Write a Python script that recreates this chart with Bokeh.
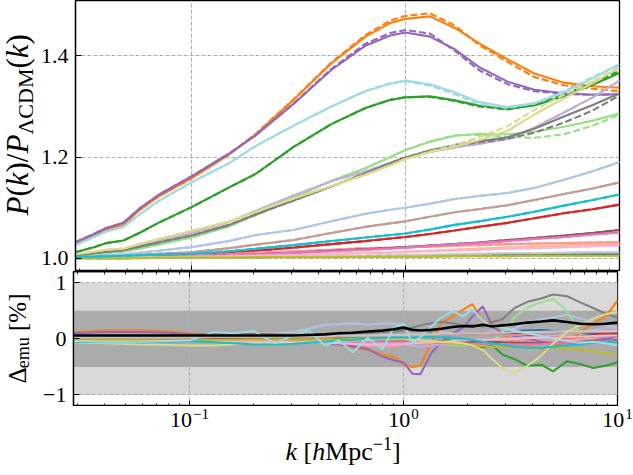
import numpy as np
from bokeh.plotting import figure
from bokeh.layouts import column, row
from bokeh.models import Range1d, LogAxis, FixedTicker, BoxAnnotation
from bokeh.core.properties import value
from bokeh.embed import file_html
from bokeh.resources import INLINE

# ---------------- data: upper panel, P(k)/P_LCDM(k) ----------------
K = [0.0287, 0.035, 0.04, 0.048, 0.057, 0.07, 0.1, 0.15, 0.2, 0.3, 0.45,
     0.65, 0.85, 1.0, 1.3, 1.7, 2.2, 3.0, 4.0, 5.5, 7.5, 10.0]

r_blue = [1.000, 1.000, 1.000, 1.000, 1.001, 1.001, 1.001, 1.002, 1.002, 1.003, 1.003, 1.004, 1.004, 1.005, 1.005, 1.006, 1.006, 1.007, 1.007, 1.008, 1.008, 1.008]
r_lblue = [1.003, 1.005, 1.007, 1.008, 1.011, 1.015, 1.022, 1.034, 1.046, 1.056, 1.073, 1.088, 1.096, 1.100, 1.108, 1.117, 1.123, 1.129, 1.139, 1.155, 1.172, 1.190]
r_orange = [1.030, 1.045, 1.057, 1.066, 1.095, 1.122, 1.158, 1.205, 1.245, 1.313, 1.385, 1.438, 1.465, 1.473, 1.478, 1.455, 1.425, 1.393, 1.365, 1.347, 1.340, 1.337]
rd_orange = [1.030, 1.045, 1.057, 1.066, 1.095, 1.122, 1.158, 1.206, 1.246, 1.314, 1.387, 1.441, 1.470, 1.479, 1.484, 1.460, 1.422, 1.388, 1.358, 1.342, 1.335, 1.330]
r_lorange = [1.000, 1.001, 1.001, 1.001, 1.002, 1.002, 1.003, 1.004, 1.005, 1.007, 1.009, 1.011, 1.012, 1.013, 1.015, 1.017, 1.019, 1.021, 1.023, 1.025, 1.027, 1.029]
r_green = [1.012, 1.022, 1.030, 1.035, 1.050, 1.070, 1.101, 1.140, 1.167, 1.220, 1.265, 1.297, 1.313, 1.318, 1.320, 1.312, 1.302, 1.295, 1.302, 1.320, 1.343, 1.366]
rd_green = [1.012, 1.022, 1.030, 1.035, 1.050, 1.070, 1.101, 1.140, 1.167, 1.220, 1.265, 1.297, 1.313, 1.318, 1.319, 1.311, 1.300, 1.294, 1.304, 1.323, 1.347, 1.370]
r_lgreen = [1.004, 1.008, 1.011, 1.013, 1.019, 1.027, 1.041, 1.063, 1.085, 1.120, 1.153, 1.178, 1.200, 1.214, 1.230, 1.242, 1.246, 1.245, 1.250, 1.260, 1.272, 1.286]
rd_lgreen = [1.004, 1.008, 1.011, 1.013, 1.019, 1.027, 1.041, 1.063, 1.085, 1.120, 1.153, 1.178, 1.200, 1.214, 1.231, 1.243, 1.244, 1.240, 1.238, 1.245, 1.262, 1.284]
r_red = [1.001, 1.002, 1.002, 1.003, 1.004, 1.005, 1.007, 1.011, 1.015, 1.021, 1.028, 1.034, 1.039, 1.042, 1.048, 1.055, 1.062, 1.070, 1.079, 1.089, 1.097, 1.106]
r_lred = [1.001, 1.001, 1.002, 1.002, 1.003, 1.004, 1.005, 1.008, 1.011, 1.014, 1.017, 1.020, 1.021, 1.022, 1.023, 1.025, 1.026, 1.028, 1.029, 1.030, 1.031, 1.032]
r_purple = [1.032, 1.048, 1.060, 1.070, 1.098, 1.125, 1.162, 1.207, 1.243, 1.305, 1.372, 1.420, 1.440, 1.446, 1.438, 1.413, 1.378, 1.349, 1.333, 1.326, 1.323, 1.324]
rd_purple = [1.032, 1.048, 1.060, 1.070, 1.098, 1.125, 1.162, 1.207, 1.244, 1.306, 1.374, 1.424, 1.445, 1.451, 1.444, 1.410, 1.372, 1.344, 1.330, 1.325, 1.323, 1.324]
r_lpurple = [1.007, 1.011, 1.015, 1.018, 1.026, 1.035, 1.050, 1.072, 1.094, 1.124, 1.152, 1.172, 1.189, 1.199, 1.210, 1.219, 1.226, 1.236, 1.258, 1.288, 1.318, 1.351]
r_brown = [1.001, 1.001, 1.001, 1.002, 1.002, 1.003, 1.004, 1.006, 1.008, 1.011, 1.015, 1.018, 1.020, 1.022, 1.025, 1.028, 1.031, 1.036, 1.040, 1.045, 1.050, 1.056]
r_lbrown = [1.002, 1.003, 1.004, 1.005, 1.007, 1.009, 1.012, 1.020, 1.027, 1.036, 1.050, 1.062, 1.069, 1.073, 1.082, 1.091, 1.097, 1.105, 1.115, 1.127, 1.138, 1.150]
r_pink = [1.001, 1.001, 1.001, 1.002, 1.002, 1.003, 1.004, 1.006, 1.008, 1.011, 1.014, 1.017, 1.019, 1.021, 1.024, 1.027, 1.030, 1.034, 1.038, 1.042, 1.047, 1.051]
r_lpink = [1.000, 1.001, 1.001, 1.001, 1.002, 1.002, 1.003, 1.004, 1.005, 1.006, 1.008, 1.010, 1.011, 1.012, 1.014, 1.015, 1.017, 1.019, 1.020, 1.022, 1.024, 1.025]
r_gray = [1.006, 1.010, 1.013, 1.016, 1.023, 1.031, 1.045, 1.066, 1.087, 1.114, 1.142, 1.168, 1.188, 1.199, 1.213, 1.224, 1.231, 1.239, 1.256, 1.280, 1.303, 1.326]
rd_gray = [1.006, 1.010, 1.013, 1.016, 1.023, 1.031, 1.045, 1.066, 1.087, 1.114, 1.142, 1.168, 1.188, 1.199, 1.213, 1.223, 1.229, 1.236, 1.248, 1.268, 1.292, 1.322]
r_lgray = [1.000, 1.000, 1.000, 1.001, 1.001, 1.001, 1.002, 1.002, 1.003, 1.003, 1.004, 1.005, 1.006, 1.006, 1.007, 1.008, 1.009, 1.010, 1.010, 1.011, 1.012, 1.012]
r_olive = [1.000, 1.000, 1.000, 1.000, 1.000, 1.001, 1.001, 1.001, 1.002, 1.002, 1.002, 1.003, 1.003, 1.003, 1.003, 1.004, 1.004, 1.004, 1.005, 1.005, 1.005, 1.005]
r_lolive = [1.008, 1.013, 1.017, 1.019, 1.028, 1.038, 1.054, 1.073, 1.092, 1.118, 1.143, 1.165, 1.184, 1.196, 1.210, 1.221, 1.233, 1.252, 1.284, 1.316, 1.346, 1.377]
rd_lolive = [1.008, 1.013, 1.017, 1.019, 1.028, 1.038, 1.054, 1.073, 1.092, 1.118, 1.143, 1.165, 1.184, 1.196, 1.211, 1.224, 1.239, 1.261, 1.293, 1.323, 1.350, 1.378]
r_cyan = [1.003, 1.003, 1.004, 1.005, 1.006, 1.007, 1.009, 1.014, 1.019, 1.026, 1.034, 1.041, 1.046, 1.049, 1.057, 1.066, 1.073, 1.082, 1.092, 1.104, 1.115, 1.126]
r_lcyan = [1.026, 1.042, 1.053, 1.062, 1.086, 1.113, 1.150, 1.188, 1.222, 1.262, 1.300, 1.330, 1.345, 1.351, 1.344, 1.328, 1.309, 1.299, 1.306, 1.328, 1.356, 1.384]
rd_lcyan = [1.026, 1.042, 1.053, 1.062, 1.086, 1.113, 1.150, 1.188, 1.222, 1.262, 1.300, 1.331, 1.346, 1.350, 1.341, 1.324, 1.305, 1.297, 1.306, 1.330, 1.358, 1.382]

# ---------------- data: lower panel, emulator error [%] ----------------
KB = [0.0287, 0.04, 0.06, 0.08, 0.1, 0.13, 0.16, 0.2, 0.25, 0.3, 0.36, 0.43, 0.5,
      0.58, 0.68, 0.8, 0.9, 1.0, 1.1, 1.2, 1.35, 1.5, 1.7, 1.9, 2.1, 2.35, 2.6,
      2.9, 3.3, 3.8, 4.4, 5.0, 5.8, 6.7, 7.7, 8.8, 10.0]

d_blue = [0.01, 0.01, 0.01, 0.00, 0.00, 0.00, -0.01, -0.01, 0.00, 0.01, 0.02, 0.02, 0.03, 0.03, 0.04, 0.04, 0.05, 0.05, 0.06, 0.06, 0.06, 0.07, 0.08, 0.08, 0.09, 0.10, 0.11, 0.12, 0.14, 0.15, 0.16, 0.14, 0.12, 0.10, 0.09, 0.08, 0.08]
d_lblue = [0.02, 0.02, 0.02, 0.03, 0.04, 0.05, 0.06, 0.08, 0.10, 0.12, 0.18, 0.25, 0.26, 0.28, 0.25, 0.28, 0.27, 0.24, 0.15, 0.12, 0.10, 0.12, 0.10, 0.12, 0.10, 0.12, 0.14, 0.15, 0.18, 0.30, 0.35, 0.38, 0.43, 0.36, 0.30, 0.25, 0.20]
d_orange = [0.12, 0.15, 0.15, 0.13, 0.10, 0.07, 0.05, 0.03, 0.02, 0.00, -0.02, -0.05, -0.10, -0.15, -0.20, -0.28, -0.32, -0.45, -0.50, -0.48, -0.05, 0.27, 0.40, 0.52, 0.62, 0.30, 0.30, 0.08, -0.05, -0.12, -0.18, -0.15, -0.05, 0.12, 0.28, 0.40, 0.68]
d_lorange = [0.03, 0.04, 0.04, 0.03, 0.03, 0.02, 0.02, 0.01, 0.00, 0.00, -0.01, -0.02, -0.02, -0.03, -0.03, -0.04, -0.04, -0.04, -0.05, -0.05, -0.05, -0.06, -0.06, -0.05, -0.05, -0.04, -0.04, -0.05, -0.06, -0.07, -0.08, -0.07, -0.05, -0.03, -0.01, 0.00, 0.02]
d_green = [0.00, -0.01, -0.01, -0.02, -0.02, -0.02, -0.02, -0.01, -0.01, 0.00, 0.01, 0.02, 0.02, 0.03, 0.03, 0.04, 0.04, 0.05, 0.07, 0.08, 0.10, 0.05, -0.05, -0.10, -0.12, -0.15, -0.12, -0.28, -0.36, -0.48, -0.46, -0.58, -0.40, -0.45, -0.52, -0.48, -0.42]
d_lgreen = [0.00, 0.00, 0.00, -0.01, -0.01, -0.01, -0.02, -0.02, -0.02, -0.03, -0.03, -0.03, -0.03, -0.04, -0.04, -0.04, -0.03, -0.02, -0.04, -0.06, -0.08, -0.09, -0.11, -0.12, -0.10, -0.08, -0.05, 0.12, 0.38, 0.56, 0.65, 0.71, 0.50, 0.08, -0.03, -0.03, 0.00]
d_red = [0.00, 0.00, 0.00, 0.00, 0.01, 0.01, 0.01, 0.02, 0.02, 0.03, 0.03, 0.04, 0.04, 0.05, 0.05, 0.05, 0.06, 0.06, 0.07, 0.08, 0.08, 0.08, 0.09, 0.10, 0.10, 0.11, 0.11, 0.10, 0.09, 0.07, 0.05, 0.03, 0.02, 0.04, 0.07, 0.09, 0.11]
d_lred = [0.02, 0.03, 0.03, 0.04, 0.06, 0.08, 0.10, 0.10, 0.09, 0.07, 0.04, 0.00, -0.04, -0.08, -0.12, -0.14, -0.13, -0.10, -0.08, -0.06, -0.05, -0.04, -0.04, -0.05, -0.06, -0.06, -0.07, -0.07, -0.06, -0.05, -0.04, -0.03, -0.02, -0.02, -0.01, 0.00, 0.00]
d_purple = [0.10, 0.12, 0.12, 0.11, 0.08, 0.06, 0.04, 0.02, 0.00, -0.02, -0.05, -0.08, -0.10, -0.13, -0.18, -0.32, -0.38, -0.42, -0.62, -0.63, -0.25, -0.06, 0.10, 0.20, 0.40, 0.58, 0.22, 0.10, 0.05, 0.00, -0.05, -0.08, -0.08, -0.06, -0.03, 0.00, 0.05]
d_lpurple = [-0.03, -0.04, -0.04, -0.04, -0.03, -0.03, -0.02, -0.02, -0.01, -0.01, -0.02, -0.03, -0.04, -0.05, -0.06, -0.08, -0.10, -0.10, -0.12, -0.14, -0.12, -0.10, -0.08, -0.06, -0.05, -0.04, -0.03, -0.02, 0.00, 0.02, 0.04, 0.06, 0.08, 0.12, 0.16, 0.20, 0.18]
d_brown = [0.00, 0.00, 0.00, 0.01, 0.01, 0.01, 0.01, 0.00, 0.00, 0.00, -0.01, -0.01, -0.02, -0.02, -0.02, -0.03, -0.03, -0.03, -0.03, -0.04, -0.04, -0.04, -0.04, -0.05, -0.05, -0.05, -0.05, -0.06, -0.07, -0.07, -0.08, -0.07, -0.06, -0.05, -0.04, -0.03, -0.02]
d_lbrown = [0.02, 0.02, 0.02, 0.02, 0.02, 0.03, 0.03, 0.03, 0.03, 0.03, 0.03, 0.03, 0.04, 0.04, 0.04, 0.04, 0.04, 0.05, 0.05, 0.05, 0.05, 0.05, 0.06, 0.06, 0.06, 0.06, 0.07, 0.07, 0.07, 0.08, 0.08, 0.09, 0.10, 0.11, 0.12, 0.12, 0.13]
d_pink = [-0.01, -0.01, -0.01, -0.01, -0.02, -0.02, -0.02, -0.02, -0.03, -0.03, -0.03, -0.04, -0.04, -0.05, -0.05, -0.05, -0.05, -0.06, -0.06, -0.07, -0.07, -0.08, -0.08, -0.08, -0.09, -0.09, -0.09, -0.10, -0.10, -0.10, -0.09, -0.08, -0.07, -0.06, -0.05, -0.04, -0.04]
d_lpink = [-0.02, -0.03, -0.03, -0.03, -0.03, -0.04, -0.04, -0.05, -0.05, -0.06, -0.06, -0.07, -0.08, -0.09, -0.10, -0.10, -0.10, -0.09, -0.08, -0.07, -0.06, -0.05, -0.04, -0.03, -0.02, -0.02, -0.01, 0.00, 0.00, 0.01, 0.02, 0.02, 0.03, 0.04, 0.05, 0.06, 0.06]
d_gray = [0.05, 0.05, 0.05, 0.06, 0.07, 0.09, 0.10, 0.09, 0.08, 0.07, 0.07, 0.08, 0.08, 0.09, 0.10, 0.12, 0.13, 0.15, 0.20, 0.24, 0.28, 0.30, 0.28, 0.24, 0.25, 0.22, 0.30, 0.35, 0.55, 0.66, 0.72, 0.79, 0.76, 0.65, 0.55, 0.45, 0.38]
d_lgray = [0.03, 0.03, 0.03, 0.03, 0.03, 0.04, 0.04, 0.04, 0.04, 0.05, 0.05, 0.05, 0.06, 0.06, 0.06, 0.07, 0.07, 0.07, 0.08, 0.08, 0.08, 0.09, 0.09, 0.10, 0.10, 0.10, 0.11, 0.11, 0.12, 0.12, 0.12, 0.13, 0.13, 0.13, 0.14, 0.14, 0.14]
d_olive = [-0.02, -0.02, -0.02, -0.02, -0.02, -0.02, -0.02, -0.01, -0.01, -0.01, -0.01, -0.01, -0.01, -0.01, -0.01, -0.01, -0.01, -0.01, -0.02, -0.03, -0.04, -0.06, -0.08, -0.10, -0.11, -0.13, -0.14, -0.14, -0.15, -0.15, -0.16, -0.16, -0.17, -0.19, -0.22, -0.25, -0.29]
d_lolive = [-0.06, -0.08, -0.10, -0.11, -0.12, -0.12, -0.10, -0.08, -0.08, -0.07, -0.06, -0.05, -0.04, -0.03, -0.02, 0.00, 0.00, 0.00, -0.02, -0.03, -0.04, -0.05, -0.06, -0.08, -0.12, -0.20, -0.36, -0.52, -0.60, -0.48, -0.30, -0.08, 0.12, 0.25, 0.36, 0.44, 0.48]
d_cyan = [-0.05, -0.06, -0.06, -0.05, -0.04, -0.06, -0.08, -0.10, -0.10, -0.09, -0.07, -0.05, -0.03, -0.02, 0.00, 0.01, 0.02, 0.02, 0.02, 0.03, 0.03, 0.03, 0.02, 0.00, -0.02, -0.05, -0.08, -0.11, -0.14, -0.16, -0.16, -0.14, -0.12, -0.10, -0.07, -0.05, -0.05]
d_lcyan = [-0.04, -0.05, -0.05, -0.04, -0.03, 0.12, 0.10, 0.14, -0.08, 0.05, 0.15, -0.12, -0.03, -0.24, 0.02, -0.18, 0.20, 0.27, -0.08, 0.03, 0.22, 0.38, 0.50, 0.40, 0.53, 0.32, 0.22, 0.20, 0.15, 0.10, 0.05, 0.00, -0.04, -0.07, -0.05, -0.08, -0.12]
d_mean = [0.06, 0.06, 0.06, 0.06, 0.06, 0.06, 0.06, 0.06, 0.06, 0.06, 0.07, 0.08, 0.10, 0.11, 0.13, 0.15, 0.17, 0.20, 0.16, 0.15, 0.16, 0.18, 0.21, 0.23, 0.22, 0.25, 0.22, 0.24, 0.26, 0.29, 0.31, 0.33, 0.30, 0.27, 0.26, 0.27, 0.29]

# ---------------- axes / ticks ----------------
XMIN, XMAX = 0.0287, 10.0
MAJOR_K = [0.1, 1.0, 10.0]
MAJOR_EXP = ["\u22121", "0", "1"]
MINOR_K = [0.03, 0.04, 0.05, 0.06, 0.07, 0.08, 0.09,
           0.2, 0.3, 0.4, 0.5, 0.6, 0.7, 0.8, 0.9,
           2.0, 3.0, 4.0, 5.0, 6.0, 7.0, 8.0, 9.0]
TOP_YTICKS = [1.0, 1.2, 1.4]
BOT_YTICKS = [-1, 0, 1]
TOP_Y = (0.9739, 1.5093)
BOT_Y = (-1.205, 1.2)
BAND_OUTER = 1.0
BAND_INNER = 0.5

TAB20 = ["#1f77b4", "#aec7e8", "#ff7f0e", "#ffbb78", "#2ca02c", "#98df8a",
         "#d62728", "#ff9896", "#9467bd", "#c5b0d5", "#8c564b", "#c49c94",
         "#e377c2", "#f7b6d2", "#7f7f7f", "#c7c7c7", "#bcbd22", "#dbdb8d",
         "#17becf", "#9edae5"]

TOP_SOLID = [r_blue, r_lblue, r_orange, r_lorange, r_green, r_lgreen, r_red, r_lred,
             r_purple, r_lpurple, r_brown, r_lbrown, r_pink, r_lpink, r_gray, r_lgray,
             r_olive, r_lolive, r_cyan, r_lcyan]
TOP_DASH = [r_blue, r_lblue, rd_orange, r_lorange, rd_green, rd_lgreen, r_red, r_lred,
            rd_purple, r_lpurple, r_brown, r_lbrown, r_pink, r_lpink, rd_gray, r_lgray,
            r_olive, rd_lolive, r_cyan, rd_lcyan]
BOT_SERIES = [d_blue, d_lblue, d_orange, d_lorange, d_green, d_lgreen, d_red, d_lred,
              d_purple, d_lpurple, d_brown, d_lbrown, d_pink, d_lpink, d_gray, d_lgray,
              d_olive, d_lolive, d_cyan, d_lcyan]

FONT = "Liberation Serif"
GRID_COLOR = "#b0b0b0"
LIGHT_BAND = "#d9d9d9"
DARK_BAND = "#ababab"

# layout (pixels)
LABW = 37            # strip holding the rotated y labels
BL, FW, BR = 36, 544, 16
TH, BH = 271, 135
XH = 66              # strip holding x tick labels and x label
FRAME_LEFT = LABW + BL
DEC = FW / np.log10(XMAX / XMIN)
TICK_FS = 22
SUP_FS = 15


def kx(px):
    """page x pixel -> k on the shared log axis"""
    return XMIN * 10 ** ((px - FRAME_LEFT) / DEC)


def tune(ax, labels=True, standoff=7, minor=True):
    ax.axis_line_color = "black"
    ax.axis_line_width = 1.3
    ax.major_tick_line_color = "black"
    ax.minor_tick_line_color = "black" if minor else None
    ax.major_tick_line_width = 1.0
    ax.minor_tick_line_width = 0.8
    ax.major_tick_in = 6
    ax.major_tick_out = 0
    ax.minor_tick_in = 3
    ax.minor_tick_out = 0
    ax.major_label_text_font = FONT
    if labels:
        ax.major_label_text_color = "black"
        ax.major_label_text_font_size = f"{TICK_FS}px"
        ax.major_label_standoff = standoff
    else:
        ax.major_label_text_color = None
        ax.major_label_text_font_size = "1px"
        ax.major_label_standoff = 0
    ax.axis_label = None


def style(p):
    p.outline_line_color = "black"
    p.outline_line_width = 1.3
    p.background_fill_color = "white"
    p.border_fill_color = "white"
    for g in (p.xgrid[0], p.ygrid[0]):
        g.grid_line_color = GRID_COLOR
        g.grid_line_dash = "4 2"
        g.grid_line_width = 1


def text_canvas(w, h, x_range=None, log=False):
    f = figure(width=w, height=h, title=None,
               x_range=x_range if x_range is not None else Range1d(0, w),
               y_range=Range1d(h, 0), x_axis_type="log" if log else "linear",
               x_axis_location=None, y_axis_location=None,
               output_backend="svg", toolbar_location=None, min_border=0)
    f.outline_line_color = None
    f.background_fill_color = "white"
    f.border_fill_color = "white"
    f.grid.visible = False
    return f


def put(f, x, y, text, size, fstyle="normal", angle=0.0, x_offset=0.0):
    f.text(x=[x], y=[y], text=[text], text_font=value(FONT),
           text_font_size=value(f"{size}px"), text_font_style=value(fstyle),
           text_color="black", text_align=value("left"),
           text_baseline=value("middle"), angle=angle, x_offset=x_offset)


def compose(f, pieces, start, center, vertical, fx=lambda v: v):
    """pieces: (text, style, size, shift of centre line, advance in em)"""
    pos = start
    for text, fstyle, size, shift, wem in pieces:
        if text:
            if vertical:
                put(f, center + shift, pos, text, size, fstyle, angle=np.pi / 2)
            else:
                put(f, fx(pos), center + shift, text, size, fstyle)
        pos = pos - wem * size if vertical else pos + wem * size


# ---------------- upper panel ----------------
p1 = figure(frame_width=FW, frame_height=TH, x_axis_type="log", title=None,
            x_range=Range1d(XMIN, XMAX), y_range=Range1d(*TOP_Y),
            output_backend="svg", toolbar_location=None,
            min_border_left=BL, min_border_right=BR, min_border_top=0, min_border_bottom=0)
style(p1)
p1.xaxis[0].ticker = FixedTicker(ticks=MAJOR_K, minor_ticks=MINOR_K)
tune(p1.xaxis[0], labels=False)
p1.yaxis[0].ticker = FixedTicker(ticks=TOP_YTICKS)
tune(p1.yaxis[0], minor=False)
p1.yaxis[0].major_label_overrides = {1.0: "1.0", 1.2: "1.2", 1.4: "1.4"}

for col, ys, yd in zip(TAB20, TOP_SOLID, TOP_DASH):
    p1.line(K, ys, line_color=col, line_width=2.1)
    p1.line(K, yd, line_color=col, line_width=2.1, line_dash="7 3")

ylab1 = text_canvas(LABW, TH)
F1, f1 = 31, 22
compose(ylab1, [("P", "italic", F1, 0, 0.611), ("(", "normal", F1, 0, 0.333),
                ("k", "italic", F1, 0, 0.444), (")/", "normal", F1, 0, 0.611),
                ("P", "italic", F1, 0, 0.611), ("\u039bCDM", "normal", f1, 8, 3.0),
                ("(", "normal", F1, 0, 0.333), ("k", "italic", F1, 0, 0.444),
                (")", "normal", F1, 0, 0.333)],
        start=215, center=16.5, vertical=True)

# ---------------- lower panel ----------------
p2 = figure(frame_width=FW, frame_height=BH, x_axis_type="log", title=None,
            x_range=p1.x_range, y_range=Range1d(*BOT_Y),
            output_backend="svg", toolbar_location=None,
            min_border_left=BL, min_border_right=BR, min_border_top=0, min_border_bottom=0)
style(p2)
p2.xaxis[0].ticker = FixedTicker(ticks=MAJOR_K, minor_ticks=MINOR_K)
tune(p2.xaxis[0], labels=False)
p2.yaxis[0].ticker = FixedTicker(ticks=BOT_YTICKS)
tune(p2.yaxis[0], minor=False)
p2.yaxis[0].major_label_overrides = {-1: "\u22121", 0: "0", 1: "1"}
top_ax = LogAxis(ticker=FixedTicker(ticks=MAJOR_K, minor_ticks=MINOR_K))
tune(top_ax, labels=False)
p2.add_layout(top_ax, "above")

p2.add_layout(BoxAnnotation(bottom=-BAND_OUTER, top=BAND_OUTER, fill_color=LIGHT_BAND,
                            fill_alpha=1.0, line_color=None, level="image"))
p2.add_layout(BoxAnnotation(bottom=-BAND_INNER, top=BAND_INNER, fill_color=DARK_BAND,
                            fill_alpha=1.0, line_color=None, level="image"))

for col, yb in zip(TAB20, BOT_SERIES):
    p2.line(KB, yb, line_color=col, line_width=2.0)
p2.line(KB, d_mean, line_color="black", line_width=2.6)

ylab2 = text_canvas(LABW, BH + 1)
F2, f2 = 25, 18
compose(ylab2, [("\u0394", "normal", F2, 0, 0.612), ("emu", "normal", f2, 6.3, 1.722),
                ("", "normal", F2, 0, 0.25), ("[%]", "normal", F2, 0, 1.499)],
        start=112, center=16.6, vertical=True)

# ---------------- x tick labels and x label ----------------
TOTAL_W = LABW + BL + FW + BR
xfig = text_canvas(TOTAL_W, XH, x_range=Range1d(kx(0), kx(TOTAL_W)), log=True)
base_w = 2 * 0.5 * TICK_FS
for kt, ex in zip(MAJOR_K, MAJOR_EXP):
    ex_w = (0.564 * (len(ex) - 1) + 0.5) * SUP_FS
    half = (base_w + 1 + ex_w) / 2
    put(xfig, kt, 12.2, "10", TICK_FS, x_offset=-half)
    put(xfig, kt, 6.0, ex, SUP_FS, x_offset=-half + base_w + 1)

F3, f3 = 26, 18
compose(xfig, [("k", "italic", F3, 0, 0.444), ("", "normal", F3, 0, 0.25),
               ("[", "normal", F3, 0, 0.333), ("h", "italic", F3, 0, 0.5),
               ("Mpc", "normal", F3, 0, 1.833), ("\u22121", "normal", f3, -7.3, 1.064),
               ("]", "normal", F3, 0, 0.333)],
        start=285, center=43.5, vertical=False, fx=kx)

layout = column(row(ylab1, p1, spacing=0), row(ylab2, p2, spacing=0), xfig, spacing=0)
open("out.html", "w").write(file_html(layout, INLINE))
